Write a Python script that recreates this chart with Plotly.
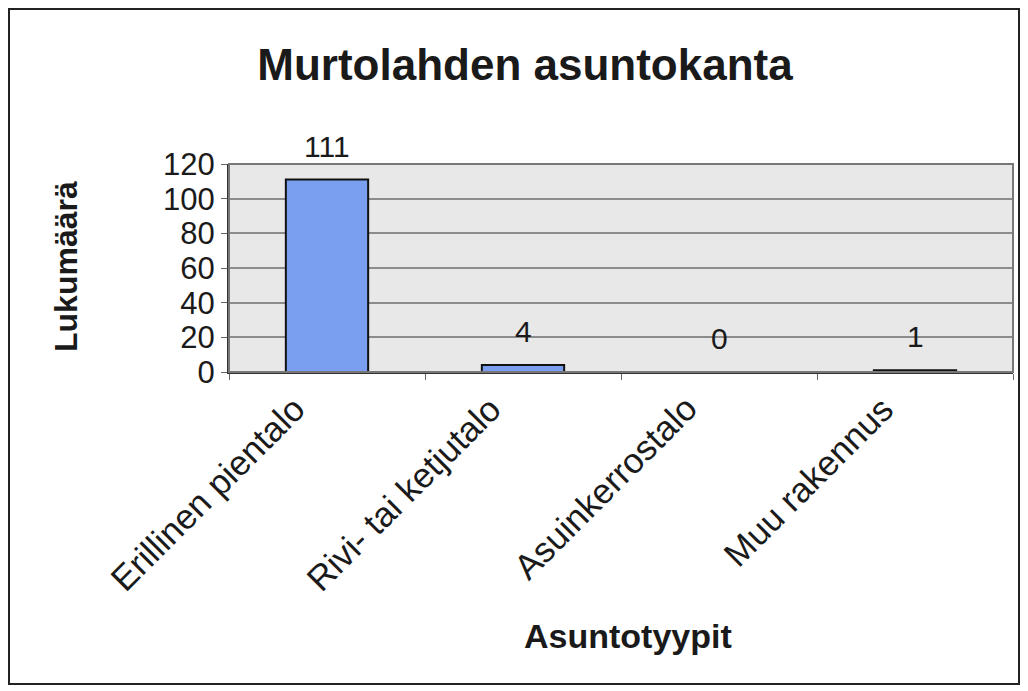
import plotly.graph_objects as go

categories = ["Erillinen pientalo", "Rivi- tai ketjutalo", "Asuinkerrostalo", "Muu rakennus"]
values = [111, 4, 0, 1]
y_ticks = [0, 20, 40, 60, 80, 100, 120]

FONT = "Liberation Sans, Arial, sans-serif"
W, H = 1020, 683
L, R, T, B = 221, 15, 156, 319
PW, PH = W - L - R, H - T - B

fig = go.Figure()
fig.add_trace(go.Bar(
    x=categories, y=values,
    marker=dict(color="#7b9ff0", line=dict(color="#111111", width=2)),
    width=0.42,
    hoverinfo="skip",
))

for c, v in zip(categories, values):
    fig.add_annotation(x=c, y=v, text=str(v), showarrow=False, yanchor="bottom",
                       yshift=15, font=dict(family=FONT, size=30, color="#1a1a1a"))

# rotated category labels (Excel-style anchoring at the top-right corner)
for c in categories:
    fig.add_annotation(x=c, y=0, text=c, showarrow=False, textangle=-45,
                       xanchor="right", yanchor="top", xshift=-12, yshift=-14,
                       font=dict(family=FONT, size=35, color="#1a1a1a"))

fig.update_layout(
    width=W, height=H, autosize=False,
    margin=dict(l=L, r=R, t=T, b=B),
    paper_bgcolor="white", plot_bgcolor="#e8e8e8",
    showlegend=False,
    title=dict(text="<b>Murtolahden asuntokanta</b>", x=517 / W, xref="container",
               xanchor="center", y=1 - 57 / H, yanchor="middle",
               font=dict(family=FONT, size=44, color="#1a1a1a")),
)
fig.update_xaxes(
    range=[-0.5, len(categories) - 0.5], autorange=False,
    showticklabels=False,
    showline=True, linecolor="#333333", linewidth=2,
    ticks="outside", tickson="boundaries", ticklen=6, tickcolor="#666666",
    showgrid=False,
)
fig.update_yaxes(
    range=[0, 120], autorange=False, tickvals=y_ticks,
    tickfont=dict(family=FONT, size=31, color="#1a1a1a"),
    showline=True, linecolor="#333333", linewidth=2,
    ticks="outside", ticklen=6, tickcolor="#666666",
    gridcolor="#8c8c8c", gridwidth=1.5,
    zeroline=False,
)
# axis titles
fig.add_annotation(text="<b>Asuntotyypit</b>", xref="paper", yref="paper",
                   x=(620 - L) / PW, y=(H - B - 628) / PH, showarrow=False,
                   xanchor="center", yanchor="middle",
                   font=dict(family=FONT, size=34, color="#1a1a1a"))
fig.add_annotation(text="<b>Lukumäärä</b>", xref="paper", yref="paper",
                   x=(58 - L) / PW, y=(H - B - 259) / PH, showarrow=False, textangle=-90,
                   xanchor="center", yanchor="middle",
                   font=dict(family=FONT, size=32, color="#1a1a1a"))
# gray plot-area border (top/right)
fig.add_shape(type="rect", xref="paper", yref="paper", x0=0, y0=0, x1=1, y1=1,
              line=dict(color="#777777", width=2), layer="above")
# outer chart border
fig.add_shape(type="rect", xref="paper", yref="paper",
              x0=(1 - L) / PW, y0=(H - B - 676) / PH, x1=(1011 - L) / PW, y1=(H - B - 1) / PH,
              line=dict(color="#222222", width=2))

fig.write_html("out.html")
